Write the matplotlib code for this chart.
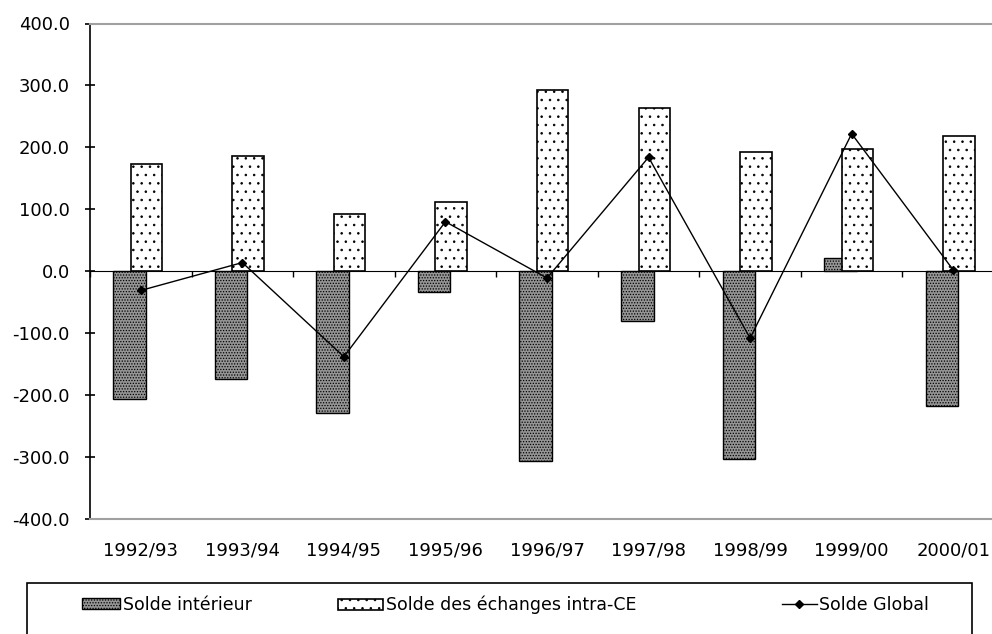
import matplotlib
matplotlib.use("Agg")
import matplotlib.pyplot as plt
from matplotlib.patches import Rectangle
import numpy as np

categories = ["1992/93", "1993/94", "1994/95", "1995/96", "1996/97",
              "1997/98", "1998/99", "1999/00", "2000/01"]
solde_interieur = [-206, -174, -229, -34, -306, -80, -303, 21, -218]
solde_intra_ce = [173, 186, 92, 111, 292, 263, 193, 198, 218]
solde_global = [-31, 14, -138, 80, -11, 184, -108, 222, 2]
y_ticks = [-400, -300, -200, -100, 0, 100, 200, 300, 400]

plt.rcParams['font.family'] = ['DejaVu Sans']
plt.rcParams['axes.unicode_minus'] = False
plt.rcParams['hatch.linewidth'] = 0.6

W, H = 992, 634
FS = 13
fig = plt.figure(figsize=(W / 100, H / 100), dpi=100)
ax = fig.add_axes([90 / W, 1 - 519 / H, 914 / W, (519 - 23.5) / H])

x = np.arange(len(categories))
b1 = ax.bar(x - 0.111, solde_interieur, width=0.32, facecolor='#959595',
            edgecolor='black', hatch='......', linewidth=1.0, zorder=2,
            label='Solde intérieur')
b2 = ax.bar(x + 0.056, solde_intra_ce, width=0.31, facecolor='white',
            edgecolor='black', hatch='..', linewidth=1.2, zorder=3,
            label='Solde des échanges intra-CE')
ln, = ax.plot(x, solde_global, color='black', linewidth=1.0, marker='D',
              markersize=4, zorder=4, label='Solde Global')

ax.set_xlim(-0.5, len(categories) - 0.5)
ax.set_ylim(-400, 400)
ax.set_yticks(y_ticks)
ax.set_yticklabels([f"{v:.1f}" for v in y_ticks], fontsize=FS)
ax.tick_params(axis='y', direction='inout', length=7, width=1.2, pad=11)
ax.set_xticks(x)
ax.set_xticklabels(categories, fontsize=FS)
ax.tick_params(axis='x', length=0, pad=16)

ax.spines['right'].set_visible(False)
ax.spines['left'].set_color('black')
ax.spines['left'].set_linewidth(1.2)
for s in ['top', 'bottom']:
    ax.spines[s].set_color('#a0a0a0')
    ax.spines[s].set_linewidth(1.5)

sec = ax.secondary_xaxis(0.5)
sec.set_xticks(np.arange(len(categories) + 1) - 0.5)
sec.set_xticklabels([])
sec.tick_params(direction='in', length=4, width=1.0)
sec.spines['bottom'].set_color('black')
sec.spines['bottom'].set_linewidth(1.2)

# legend frame
fig.patches.append(Rectangle((27 / W, -0.05), 945 / W, 0.05 + 1 - 583 / H,
                             transform=fig.transFigure, fill=False,
                             edgecolor='black', linewidth=1.2))
ly = 1 - 605 / H
LFS = 12.5
for handle, lab, lx, hl in [(b1, 'Solde intérieur', 82, 2.2),
                            (b2, 'Solde des échanges intra-CE', 338, 2.6),
                            (ln, 'Solde Global', 782, 2.0)]:
    fig.legend([handle], [lab], loc='center left',
               bbox_to_anchor=(lx / W, ly), frameon=False, fontsize=LFS,
               handlelength=hl, handleheight=0.6, handletextpad=0.15,
               borderpad=0, borderaxespad=0)

fig.savefig('out.png', dpi=100)
